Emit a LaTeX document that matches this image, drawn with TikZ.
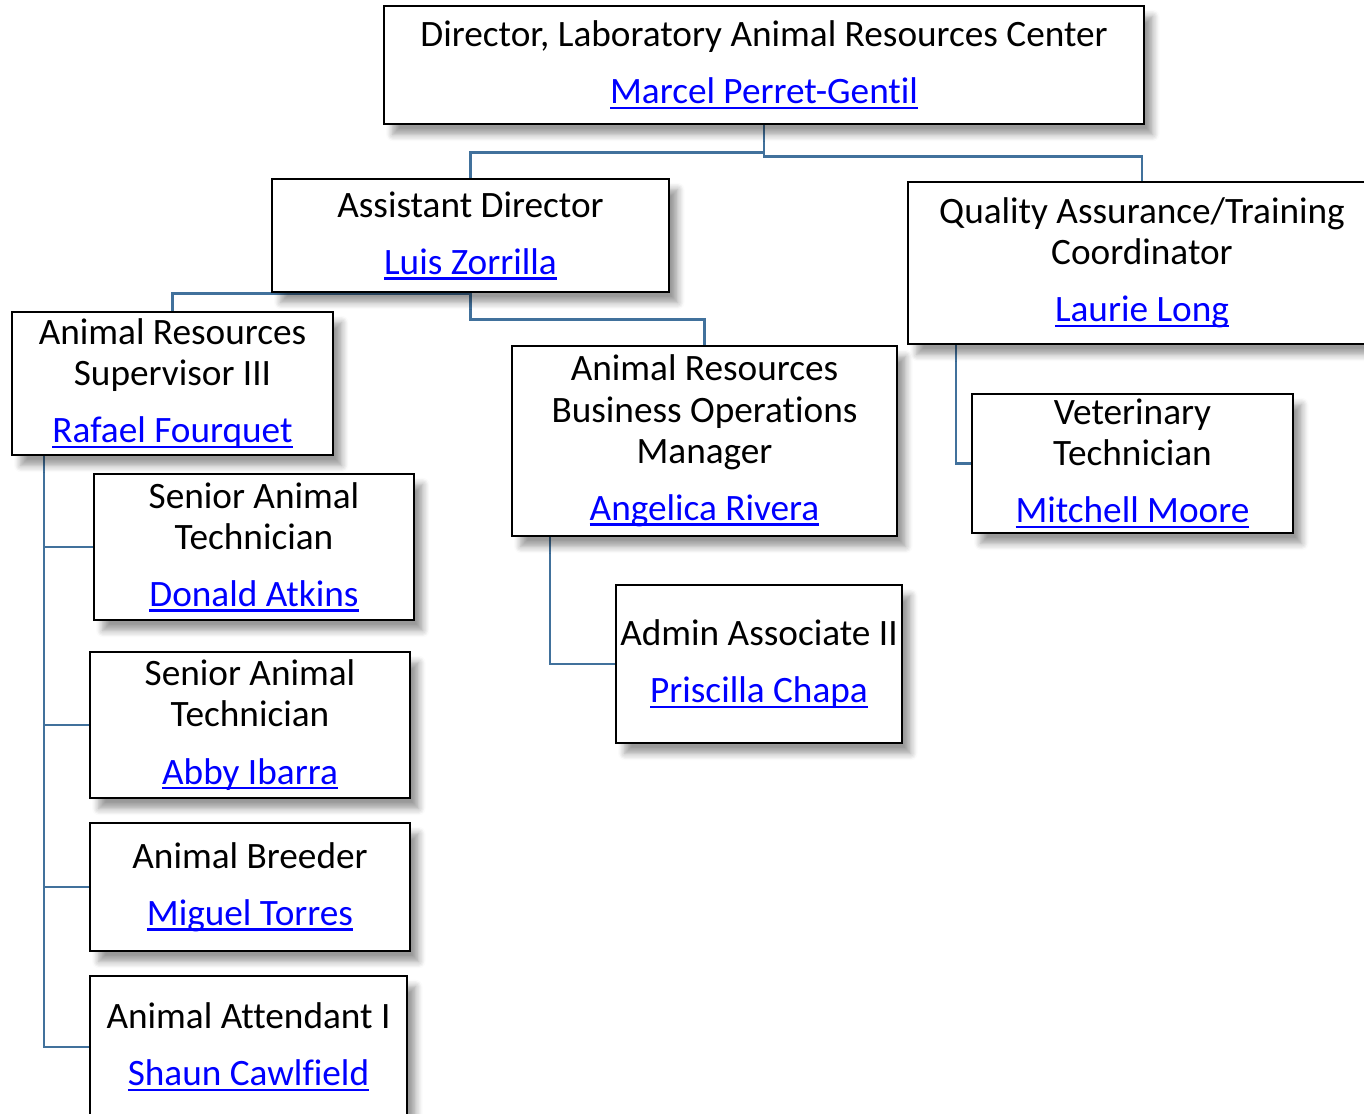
\documentclass[tikz,border=0pt]{standalone}
\usepackage{fontspec}
\setmainfont{Carlito}[Ligatures=NoCommon]
\usetikzlibrary{shadows.blur}
\definecolor{linkblue}{HTML}{0000FF}
\definecolor{connblue}{HTML}{41719C}
\newcommand{\person}[1]{\textcolor{linkblue}{\setbox0\hbox{#1}\rlap{\rule[-1.5pt]{\wd0}{0.65pt}}\box0}}
\pgfdeclarelayer{background}
\pgfsetlayers{background,main}

\begin{document}
\begin{tikzpicture}[
    post/.style n args={2}{draw=black, fill=white, line width=0.7pt, align=center, inner sep=0pt,
      minimum width=#1cm, minimum height=#2cm, font=\fontsize{10.6}{11.7}\selectfont,
      blur shadow={shadow xshift=2.5pt, shadow yshift=-3pt, shadow blur steps=6, shadow opacity=40}},
    conn/.style={draw=connblue, line width=0.75pt}
  ]
  \useasboundingbox (0,0) rectangle (13.64,-11.14);
  % top level
  \node[post={7.60}{1.18}] (dir) at (7.64,-0.65) {Director, Laboratory Animal Resources Center\\[4.6pt]\person{Marcel Perret-Gentil}};
  \node[post={3.97}{1.13}] (ad) at (4.705,-2.355) {Assistant Director\\[4.6pt]\person{Luis Zorrilla}};
  \node[post={4.68}{1.62}] (qa) at (11.42,-2.63) {Quality Assurance/Training\\Coordinator\\[4.6pt]\person{Laurie Long}};
  % second level
  \node[post={3.21}{1.43}] (ars) at (1.725,-3.835) {Animal Resources\\Supervisor III\\[4.6pt]\person{Rafael Fourquet}};
  \node[post={3.85}{1.90}] (ops) at (7.045,-4.41) {Animal Resources\\Business Operations\\Manager\\[4.6pt]\person{Angelica Rivera}};
  \node[post={3.21}{1.39}] (vt) at (11.325,-4.635) {Veterinary\\Technician\\[4.6pt]\person{Mitchell Moore}};
  % staff
  \node[post={3.20}{1.46}] (sat1) at (2.54,-5.47) {Senior Animal\\Technician\\[4.6pt]\person{Donald Atkins}};
  \node[post={2.86}{1.58}] (adm) at (7.59,-6.64) {Admin Associate II\\[4.6pt]\person{Priscilla Chapa}};
  \node[post={3.20}{1.46}] (sat2) at (2.50,-7.25) {Senior Animal\\Technician\\[4.6pt]\person{Abby Ibarra}};
  \node[post={3.20}{1.28}] (brd) at (2.50,-8.87) {Animal Breeder\\[4.6pt]\person{Miguel Torres}};
  \node[post={3.17}{1.42}] (att) at (2.485,-10.47) {Animal Attendant I\\[4.6pt]\person{Shaun Cawlfield}};

  \coordinate (arsbus) at (0.44,-4.55);
  \coordinate (qabus) at (9.56,-3.44);
  \coordinate (opsbus) at (5.50,-5.36);

  \begin{pgfonlayer}{background}
    \draw[conn] (dir.south) -- ++(0,-0.27) -| (ad.north);
    \draw[conn] (dir.south) -- ++(0,-0.31) -| (qa.north);
    \draw[conn] (ad.south) -| (ars.north);
    \draw[conn] (ad.south) -- ++(0,-0.26) -| (ops.north);
    \foreach \staff in {sat1,sat2,brd,att}
      \draw[conn] (arsbus) |- (\staff.west);
    \draw[conn] (opsbus) |- (adm.west);
    \draw[conn] (qabus) |- (vt.west);
  \end{pgfonlayer}
\end{tikzpicture}
\end{document}
